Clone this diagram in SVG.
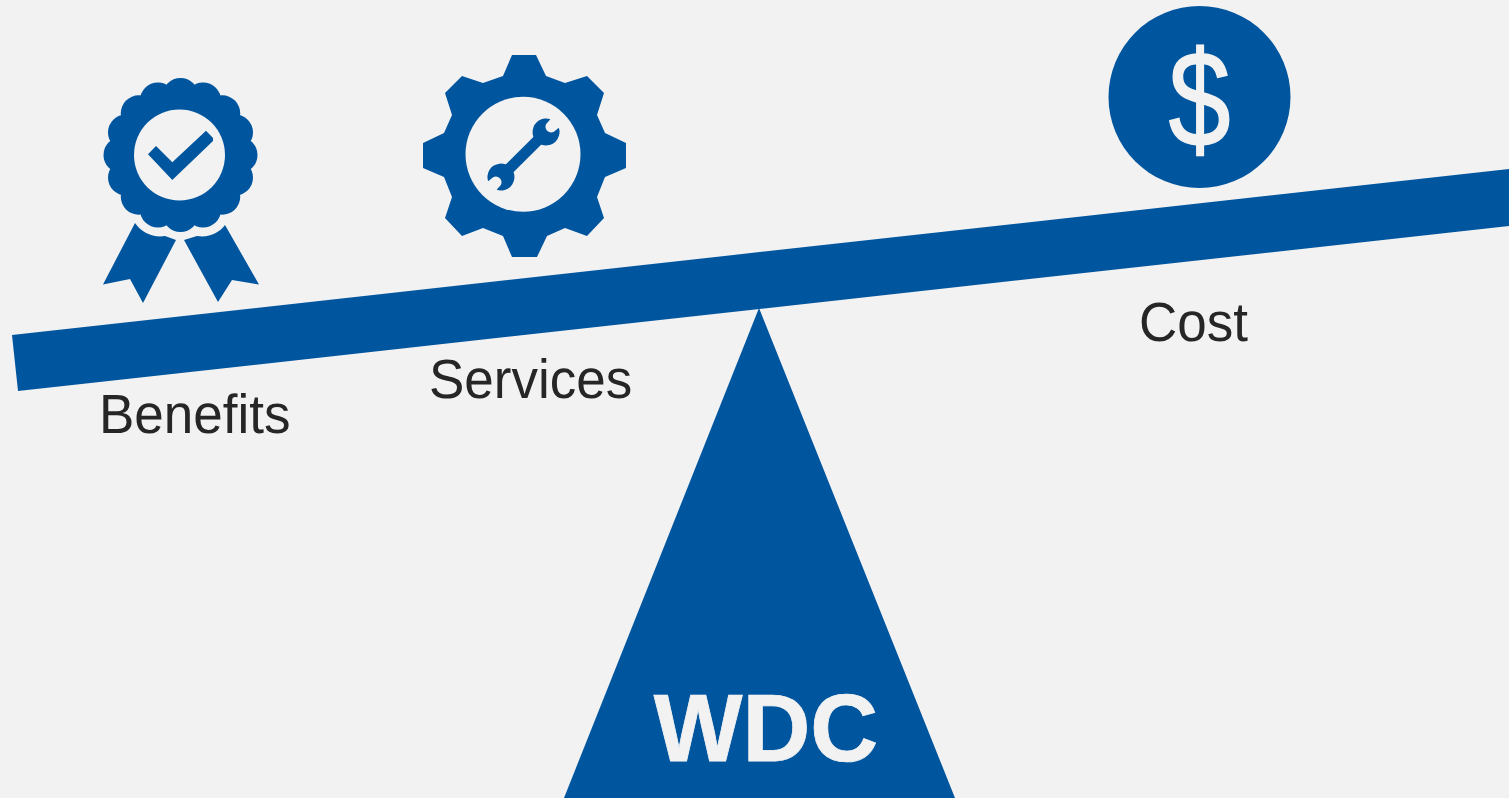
<svg xmlns="http://www.w3.org/2000/svg" width="1509" height="798" viewBox="0 0 1509 798" text-rendering="geometricPrecision">
<style>
.b{fill:#00559f}
.g{fill:#f2f2f2}
.l{font-family:"Liberation Sans",Arial,sans-serif;font-size:53px;fill:#262626}
</style>
<defs>
<circle id="lobe" class="b" cx="0" cy="-59" r="18"/>
<path id="head" class="b" d="M11.5,-6 A13.5,13.5 0 1 0 11.5,6 L5,5.5 Q1,4 1,0 Q1,-4 5,-5.5 Z"/>
</defs>
<rect class="g" width="1509" height="798"/>
<g id="beam"><polygon class="b" points="12,335 1509,169 1509,226 18,391"/></g>
<g id="fulcrum">
<polygon class="b" points="759,308 955,798 564,798"/>
<text transform="translate(766 761) scale(1 1.02)" text-anchor="middle" font-family="'Liberation Sans',Arial,sans-serif" font-weight="700" font-size="94" class="g" stroke="#f2f2f2" stroke-width=".8">WDC</text>
</g>
<g id="benefits">
<g transform="translate(180.5 155)">
<circle class="b" r="62"/>
<use href="#lobe"/><use href="#lobe" transform="rotate(22.5)"/><use href="#lobe" transform="rotate(45)"/><use href="#lobe" transform="rotate(67.5)"/>
<use href="#lobe" transform="rotate(90)"/><use href="#lobe" transform="rotate(112.5)"/><use href="#lobe" transform="rotate(135)"/><use href="#lobe" transform="rotate(157.5)"/>
<use href="#lobe" transform="rotate(180)"/><use href="#lobe" transform="rotate(202.5)"/><use href="#lobe" transform="rotate(225)"/><use href="#lobe" transform="rotate(247.5)"/>
<use href="#lobe" transform="rotate(270)"/><use href="#lobe" transform="rotate(292.5)"/><use href="#lobe" transform="rotate(315)"/><use href="#lobe" transform="rotate(337.5)"/>
</g>
<circle class="g" cx="179.5" cy="155" r="45.5"/>
<polygon class="b" points="148,154.3 156,146 172.3,162.3 206,130.7 213,138 213,141 172.3,180"/>
<path class="b" d="M135,223 C141,232 153,238 165,236 L176,240 L143,303 L130,279 L103,284.5 Z"/>
<path class="b" d="M225,225 C219,233 209,238 197,236 L184,240 L218,302 L232,280 L259,284.5 Z"/>
<text class="l" transform="translate(99 432.5) scale(1 1.04)">Benefits</text>
</g>
<g id="services">
<polygon class="b" points="512,55 536,55 546,76 565,83 587,76 604,93 597,115 605,133 626,143 626,168 605,177 597,197 604,218 587,236 565,228 547,236 537,257 512,257 503,236 483,228 462,236 445,218 452,197 444,177 423,168 423,143 444,133 452,115 445,93 462,76 483,83 503,76"/>
<circle class="g" cx="523" cy="154.3" r="57.5"/>
<g transform="translate(523.5 154.5) rotate(-45)">
<rect class="b" x="-24" y="-5.5" width="48" height="11"/>
<use href="#head" transform="translate(32.5 0)"/>
<use href="#head" transform="translate(-32.5 0) rotate(180)"/>
</g>
<text class="l" transform="translate(429 398) scale(1 1.04)">Services</text>
</g>
<g id="cost">
<circle class="b" cx="1199.5" cy="97" r="91"/>
<text transform="translate(1199.5 146) scale(.82 1)" text-anchor="middle" font-family="'Liberation Sans',Arial,sans-serif" font-size="136" class="g" stroke="#f2f2f2" stroke-width="1.5">$</text>
<text class="l" transform="translate(1139 341) scale(1 1.04)">Cost</text>
</g>
</svg>
